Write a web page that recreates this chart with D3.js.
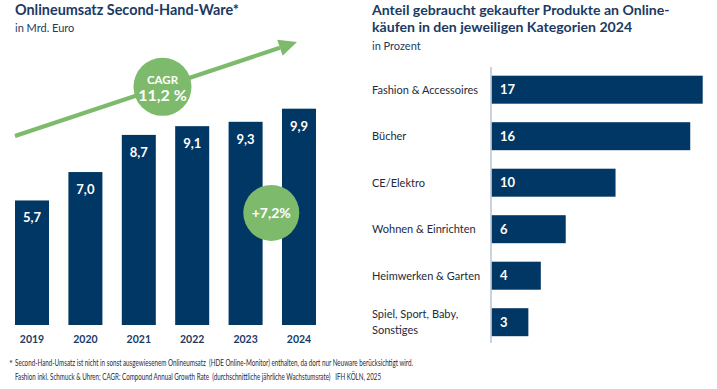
<!DOCTYPE html>
<html><head><meta charset="utf-8">
<script src="https://cdn.jsdelivr.net/npm/d3@7"></script>
<style>
html,body{margin:0;padding:0;background:#fff;}
svg{display:block;font-family:Lato,"Open Sans",sans-serif;}
</style></head>
<body>
<svg id="c" width="717" height="389"></svg>
<script>
// ---- data ----
const years = ["2019","2020","2021","2022","2023","2024"];
const revenue = [5.7, 7.0, 8.7, 9.1, 9.3, 9.9];
const revenueLabels = ["5,7","7,0","8,7","9,1","9,3","9,9"];
const categories = ["Fashion & Accessoires","Bücher","CE/Elektro","Wohnen & Einrichten","Heimwerken & Garten","Spiel, Sport, Baby, Sonstiges"];
const categoryLines = [["Fashion & Accessoires"],["Bücher"],["CE/Elektro"],["Wohnen & Einrichten"],["Heimwerken & Garten"],["Spiel, Sport, Baby,","Sonstiges"]];
const shares = [17, 16, 10, 6, 4, 3];
const cagrText = ["CAGR", "11,2 %"];
const growthText = "+7,2%";

const navy = "#003764", green = "#7dba6c", textDark = "#1e2a3a", titleCol = "#1b3a63";
const svg = d3.select("#c");

// ---- left chart ----
const x = d3.scaleBand().domain(years).range([15, 316]).paddingInner(0.363).paddingOuter(0);
const y = d3.scaleLinear().domain([0, 10]).range([325, 106.5]);

svg.append("text").attr("x",15).attr("y",15).attr("fill",titleCol)
  .attr("font-size",14.4).attr("font-weight",700).text("Onlineumsatz Second-Hand-Ware*");
svg.append("text").attr("x",15).attr("y",31.5).attr("fill",titleCol)
  .attr("font-size",11).text("in Mrd. Euro");

// arrow (trend), in data units
const arrowFrom = {band: "2019", off: 0, v: 8.65};
const arrowTo = {band: "2024", off: 15, v: 12.95};
const ax1 = x(arrowFrom.band)+arrowFrom.off, ay1 = y(arrowFrom.v);
const ax2 = x(arrowTo.band)+arrowTo.off, ay2 = y(arrowTo.v);
const ang = Math.atan2(ay2-ay1, ax2-ax1);
const hl = 18, hw = 8.5;
const bx = ax2 - hl*Math.cos(ang), by = ay2 - hl*Math.sin(ang);
svg.append("line").attr("x1",ax1).attr("y1",ay1).attr("x2",bx).attr("y2",by)
  .attr("stroke",green).attr("stroke-width",4.2);
svg.append("path").attr("fill",green).attr("d",
  `M${ax2},${ay2}L${bx - hw*Math.sin(ang)},${by + hw*Math.cos(ang)}L${bx + hw*Math.sin(ang)},${by - hw*Math.cos(ang)}Z`);

// bars
svg.append("g").selectAll("rect").data(revenue).join("rect")
  .attr("x",(d,i)=>x(years[i])).attr("width",x.bandwidth())
  .attr("y",d=>y(d)).attr("height",d=>y(0)-y(d)).attr("fill",navy);
svg.append("g").selectAll("text").data(revenue).join("text")
  .attr("x",(d,i)=>x(years[i])+x.bandwidth()/2).attr("y",d=>y(d)+22)
  .attr("text-anchor","middle").attr("fill","#fff").attr("font-size",13).attr("font-weight",700)
  .text((d,i)=>revenueLabels[i]);

// x axis labels
svg.append("g").selectAll("text").data(years).join("text")
  .attr("x",d=>x(d)+x.bandwidth()/2).attr("y",343)
  .attr("text-anchor","middle").attr("fill",titleCol).attr("font-size",10.5).attr("font-weight",700)
  .text(d=>d);

// CAGR bubble
const cagrCx = (x("2021")+x("2022")+x.bandwidth())/2 - 3, cagrCy = y(10.9);
svg.append("circle").attr("cx",cagrCx).attr("cy",cagrCy).attr("r",29).attr("fill",green);
svg.append("text").attr("x",cagrCx).attr("y",cagrCy-3).attr("text-anchor","middle")
  .attr("fill","#fff").attr("font-size",11.5).attr("font-weight",700).text(cagrText[0]);
svg.append("text").attr("x",cagrCx).attr("y",cagrCy+14).attr("text-anchor","middle")
  .attr("fill","#fff").attr("font-size",16).attr("font-weight",700).text(cagrText[1]);

// growth bubble
const gCx = (x("2023")+x.bandwidth()+x("2024"))/2 - 1, gCy = y(5.13);
svg.append("circle").attr("cx",gCx).attr("cy",gCy).attr("r",28).attr("fill",green);
svg.append("text").attr("x",gCx).attr("y",gCy+5).attr("text-anchor","middle")
  .attr("fill","#fff").attr("font-size",14).attr("font-weight",700).text(growthText);

// ---- right chart ----
const yb = d3.scaleBand().domain(categories).range([75.7, 336.2]).paddingInner(0.398).paddingOuter(0);
const xb = d3.scaleLinear().domain([0, 17]).range([491, 702.7]);

svg.append("text").attr("x",372).attr("y",15).attr("fill",titleCol)
  .attr("font-size",14.1).attr("font-weight",700).text("Anteil gebraucht gekaufter Produkte an Online-");
svg.append("text").attr("x",372).attr("y",32).attr("fill",titleCol)
  .attr("font-size",14.1).attr("font-weight",700).text("käufen in den jeweiligen Kategorien 2024");
svg.append("text").attr("x",372).attr("y",49.5).attr("fill",titleCol)
  .attr("font-size",11).text("in Prozent");

svg.append("line").attr("x1",xb(0)).attr("x2",xb(0)).attr("y1",67).attr("y2",343)
  .attr("stroke","#b9c3d2").attr("stroke-width",1.5);

svg.append("g").selectAll("rect").data(shares).join("rect")
  .attr("x",xb(0)+0.8).attr("y",(d,i)=>yb(categories[i])).attr("height",yb.bandwidth())
  .attr("width",d=>xb(d)-xb(0)-0.8).attr("fill",navy);
svg.append("g").selectAll("text").data(shares).join("text")
  .attr("x",xb(0)+9).attr("y",(d,i)=>yb(categories[i])+yb.bandwidth()/2+4.5)
  .attr("fill","#fff").attr("font-size",13).attr("font-weight",700).text(d=>d);

const cl = svg.append("g").selectAll("text").data(categoryLines).join("text")
  .attr("x",372).attr("fill",textDark).attr("font-size",11)
  .attr("y",(d,i)=>yb(categories[i])+yb.bandwidth()/2+4 - (d.length-1)*8);
cl.selectAll("tspan").data(d=>d).join("tspan").attr("x",372).attr("dy",(d,j)=>j?16:0).text(d=>d);

// ---- footnote ----
const foot1 = "Second-Hand-Umsatz ist nicht in sonst ausgewiesenem Onlineumsatz  (HDE Online-Monitor) enthalten, da dort nur Neuware berücksichtigt wird.";
const foot2 = "Fashion inkl. Schmuck & Uhren; CAGR: Compound Annual Growth Rate  (durchschnittliche jährliche Wachstumsrate)   IFH KÖLN, 2025";
svg.append("text").attr("x",9).attr("y",367).attr("fill",textDark).attr("font-size",9).text("*");
svg.append("text").attr("x",15).attr("y",366).attr("fill",textDark).attr("font-size",9)
  .attr("textLength",398).attr("lengthAdjust","spacingAndGlyphs").attr("xml:space","preserve").text(foot1);
svg.append("text").attr("x",15).attr("y",380).attr("fill",textDark).attr("font-size",9)
  .attr("textLength",366).attr("lengthAdjust","spacingAndGlyphs").attr("xml:space","preserve").text(foot2);
</script>
</body></html>
